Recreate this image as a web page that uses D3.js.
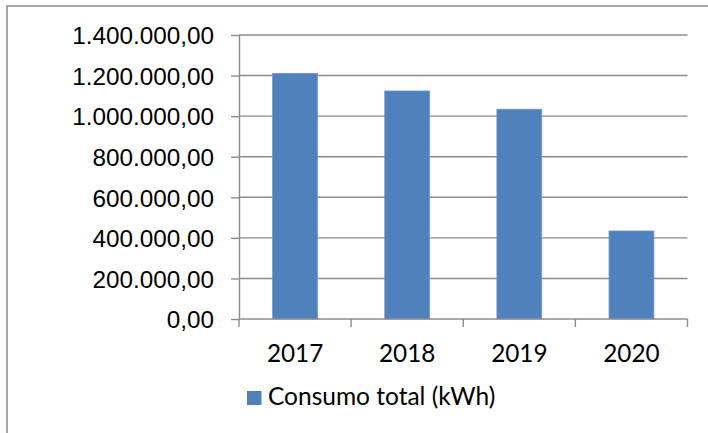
<!DOCTYPE html>
<html lang="pt">
<head>
  <meta charset="UTF-8">
  <title>Consumo total (kWh)</title>
  <script src="https://cdn.jsdelivr.net/npm/d3@7"></script>
  <style>
    html, body {
      margin: 0;
      padding: 0;
      background: #fff;
    }
    svg {
      display: block;
      font-family: Lato, "Open Sans", sans-serif;
    }
    .grid line {
      stroke: #8c8c8c;
      stroke-width: 1.4;
    }
    .axis path, .axis line {
      stroke: #8c8c8c;
      stroke-width: 1.4;
    }
    .axis text {
      fill: #000;
      font-size: 24.3px;
    }
  </style>
</head>
<body>
  <div id="chart"></div>
  <script>
    // data
    const years = ["2017", "2018", "2019", "2020"];
    const consumo = [1211000, 1124000, 1034000, 434000];
    const yTicks = [0, 200000, 400000, 600000, 800000, 1000000, 1200000, 1400000];
    const seriesName = "Consumo total (kWh)";

    const W = 708, H = 433;
    const margin = { top: 35, right: 20.5, bottom: 114, left: 239 };
    const width = W - margin.left - margin.right;
    const height = H - margin.top - margin.bottom;

    const pt = d3.formatLocale({ decimal: ",", thousands: ".", grouping: [3], currency: ["", ""] });
    const fmt = pt.format(",.2f");

    const svg = d3.select("#chart")
      .append("svg")
      .attr("width", W)
      .attr("height", H);

    // outer chart border (runs off the right and bottom edges)
    svg.append("rect")
      .attr("x", 7)
      .attr("y", 6)
      .attr("width", W + 10)
      .attr("height", H + 10)
      .attr("fill", "none")
      .attr("stroke", "#8c8c8c")
      .attr("stroke-width", 1.5);

    const g = svg.append("g")
      .attr("transform", `translate(${margin.left},${margin.top})`);

    const x = d3.scaleBand()
      .domain(years)
      .range([0, width])
      .paddingInner(0.6)
      .paddingOuter(0.3);

    const y = d3.scaleLinear()
      .domain([0, 1400000])
      .range([height, 0]);

    // gridlines
    g.append("g")
      .attr("class", "grid")
      .selectAll("line")
      .data(yTicks.filter(d => d > 0))
      .enter()
      .append("line")
      .attr("x1", 0)
      .attr("x2", width)
      .attr("y1", d => y(d))
      .attr("y2", d => y(d));

    // bars
    g.selectAll(".bar")
      .data(consumo)
      .enter()
      .append("rect")
      .attr("class", "bar")
      .attr("x", (d, i) => x(years[i]))
      .attr("y", d => y(d))
      .attr("width", x.bandwidth())
      .attr("height", d => height - y(d))
      .attr("fill", "#4f81bd")
      .attr("stroke", "#6f97cc")
      .attr("stroke-width", 0.8);

    // y axis
    const yAxis = g.append("g")
      .attr("class", "axis")
      .call(d3.axisLeft(y).tickValues(yTicks).tickFormat(fmt).tickSize(8).tickSizeOuter(0).tickPadding(17));
    yAxis.selectAll("text").attr("dy", "0.36em");

    // x axis with ticks between categories
    const xAxis = g.append("g")
      .attr("class", "axis")
      .attr("transform", `translate(0,${height})`);
    xAxis.append("line")
      .attr("x1", 0)
      .attr("x2", width);
    xAxis.selectAll(".sep")
      .data(d3.range(years.length + 1))
      .enter()
      .append("line")
      .attr("class", "sep")
      .attr("x1", i => i * x.step())
      .attr("x2", i => i * x.step())
      .attr("y1", 0)
      .attr("y2", 8);
    xAxis.selectAll(".lbl")
      .data(years)
      .enter()
      .append("text")
      .attr("class", "lbl")
      .attr("x", d => x(d) + x.bandwidth() / 2)
      .attr("y", 43)
      .attr("text-anchor", "middle")
      .text(d => d);

    // legend
    const legend = svg.append("g")
      .attr("transform", "translate(247,391)");
    legend.append("rect")
      .attr("width", 14.5)
      .attr("height", 14)
      .attr("fill", "#4f81bd");
    legend.append("text")
      .attr("x", 21)
      .attr("y", 14)
      .attr("font-size", 24.5)
      .attr("fill", "#000")
      .text(seriesName);
  </script>
</body>
</html>
